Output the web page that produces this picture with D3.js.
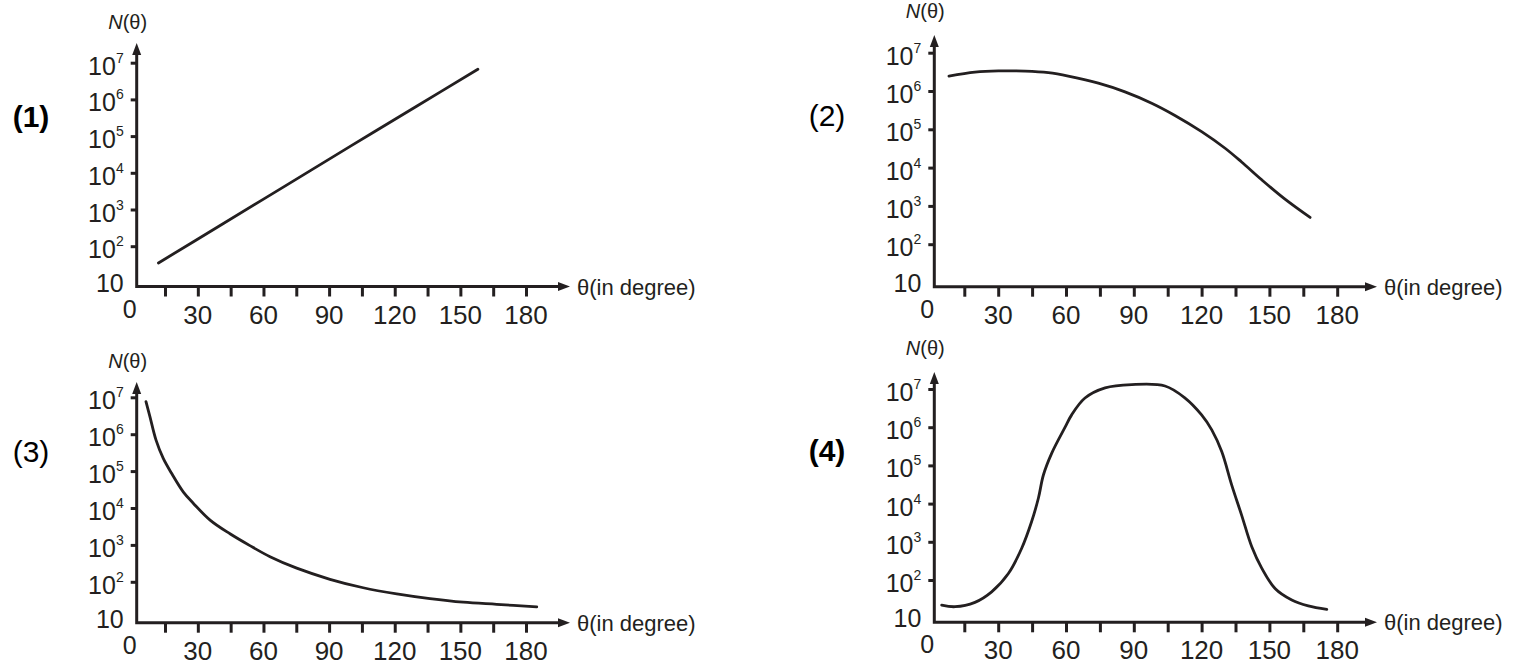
<!DOCTYPE html>
<html>
<head>
<meta charset="utf-8">
<script src="https://cdn.jsdelivr.net/npm/d3@7"></script>
<style>
  body { margin: 0; background: #fff; }
  svg { display: block; font-family: "Liberation Sans", Arial, sans-serif; }
  .curve { fill: none; stroke: #231f20; stroke-width: 2.8; stroke-linejoin: round; stroke-linecap: round; }
  .axis-line { stroke: #231f20; stroke-width: 3; fill: none; }
  .tick line { stroke: #231f20; stroke-width: 3; }
</style>
</head>
<body>
<svg id="chart" width="1531" height="670"></svg>
<script>
// tick labels
let xMajorTicks = [30, 60, 90, 120, 150, 180];
let xMinorTicks = [15, 30, 45, 60, 75, 90, 105, 120, 135, 150, 165, 180];
let yExponents = [2, 3, 4, 5, 6, 7];
let panelNames = ["(1)", "(2)", "(3)", "(4)"];

// curves, [theta in degree, N(theta)]
let curve1 = [[12, 35], [40, 360], [70, 4400], [100, 5.4e4], [130, 6.5e5], [158, 6.6e6]];

let curve2 = [[8.2, 2.45e6], [19.7, 3.1e6], [30.1, 3.35e6], [41.9, 3.3e6], [52.2, 3.0e6],
    [61, 2.45e6], [74.3, 1.6e6], [86.1, 9.5e5], [97.9, 4.8e5], [108.2, 2.3e5],
    [120, 8.7e4], [130.4, 3.2e4], [137.7, 1.4e4], [146.6, 4.8e3], [156.9, 1.5e3], [168, 500]];

let curve3 = [[6.3, 7.6e6], [8.1, 3.0e6], [10.9, 6.9e5], [14.2, 2.2e5], [18, 8.7e4],
    [23.4, 2.7e4], [27.9, 1.35e4], [35.6, 4.7e3], [44.7, 2.0e3], [53.8, 955],
    [63, 479], [75.2, 234], [90.4, 117], [105.6, 69], [120.9, 47], [136.1, 35],
    [151.3, 28], [166.6, 24.5], [184.9, 21]];

let curve4 = [[5, 22], [10.9, 20], [19.7, 26], [27.1, 49], [34.5, 148], [40.4, 680],
    [44.8, 3.4e3], [47.8, 1.4e4], [50, 5.6e4], [53.7, 2.1e5], [59.6, 1.0e6], [62.5, 2.1e6],
    [68.4, 5.8e6], [77.3, 1.07e7], [89.1, 1.3e7], [103.8, 1.2e7], [112.7, 5.8e6],
    [120, 2.1e6], [124.5, 8.5e5], [128.9, 2.3e5], [133.3, 3.1e4], [137.7, 5.0e3],
    [142.2, 740], [146.6, 204], [152.5, 60], [159.9, 30], [167.2, 21], [175.4, 17]];

let curves = [curve1, curve2, curve3, curve4];

// where each panel sits on the page
let panels = [
    { x0: 132.2, x180: 526.0, y10: 282.9, y7: 62.7, axisX: 136.7, axisY: 286.5, yTip: 43, xTip: 570, labelX: 31, labelY: 127, bold: true, nY: 29 },
    { x0: 930.4, x180: 1337.2, y10: 282.5, y7: 52.7, axisX: 934.3, axisY: 286.7, yTip: 35, xTip: 1377, labelX: 827, labelY: 126, bold: false, nY: 18 },
    { x0: 132.2, x180: 526.0, y10: 618.7, y7: 397.3, axisX: 136.7, axisY: 622.7, yTip: 382, xTip: 570, labelX: 31, labelY: 462, bold: false, nY: 368 },
    { x0: 930.4, x180: 1337.2, y10: 618.2, y7: 389.0, axisX: 934.3, axisY: 622.3, yTip: 372, xTip: 1377, labelX: 827, labelY: 461, bold: true, nY: 355 }
];

let svg = d3.select("#chart");

panels.forEach((p, i) => drawPanel(p, curves[i], panelNames[i]));

function drawPanel(p, data, name) {
    let x = d3.scaleLinear().domain([0, 180]).range([p.x0, p.x180]);
    let y = d3.scaleLog().domain([10, 1e7]).range([p.y10, p.y7]);

    let g = svg.append("g");

    // x ticks
    g.append("g")
        .attr("transform", `translate(0,${p.axisY})`)
        .call(d3.axisBottom(x).tickValues(xMinorTicks).tickSize(10).tickFormat(""))
        .call(s => s.select(".domain").remove());

    // y ticks
    g.append("g")
        .attr("transform", `translate(${p.axisX},0)`)
        .call(d3.axisLeft(y).tickValues(yExponents.map(e => Math.pow(10, e))).tickSize(6).tickFormat(""))
        .call(s => s.select(".domain").remove());

    // axes with arrows
    g.append("path")
        .attr("class", "axis-line")
        .attr("d", `M${p.axisX},${p.yTip + 8}V${p.axisY}H${p.xTip - 8}`);
    g.append("path")
        .attr("fill", "#231f20")
        .attr("d", `M${p.axisX},${p.yTip}L${p.axisX - 4.5},${p.yTip + 12}L${p.axisX + 4.5},${p.yTip + 12}Z`);
    g.append("path")
        .attr("fill", "#231f20")
        .attr("d", `M${p.xTip},${p.axisY}L${p.xTip - 12},${p.axisY - 4.5}L${p.xTip - 12},${p.axisY + 4.5}Z`);

    // y labels 10^n
    yExponents.forEach(e => {
        let t = g.append("text")
            .attr("x", p.axisX - 13)
            .attr("y", y(Math.pow(10, e)) + 12)
            .attr("text-anchor", "end")
            .attr("fill", "#231f20")
            .attr("font-size", 25);
        t.append("tspan").text("10");
        t.append("tspan").attr("font-size", 14).attr("dy", -12).text(e);
    });
    g.append("text")
        .attr("x", p.axisX - 13)
        .attr("y", p.axisY + 5)
        .attr("text-anchor", "end")
        .attr("fill", "#231f20")
        .attr("font-size", 25)
        .text("10");

    // x labels
    g.selectAll(".xlab")
        .data(xMajorTicks)
        .join("text")
        .attr("x", d => x(d))
        .attr("y", p.axisY + 37)
        .attr("text-anchor", "middle")
        .attr("fill", "#231f20")
        .attr("font-size", 26)
        .text(d => d);
    g.append("text")
        .attr("x", p.axisX - 7)
        .attr("y", p.axisY + 31)
        .attr("text-anchor", "middle")
        .attr("fill", "#231f20")
        .attr("font-size", 25)
        .text("0");

    // axis titles
    let nt = g.append("text")
        .attr("x", p.axisX - 9)
        .attr("y", p.nY)
        .attr("text-anchor", "middle")
        .attr("fill", "#231f20")
        .attr("font-size", 20);
    nt.append("tspan").attr("font-style", "italic").text("N");
    nt.append("tspan").text("(θ)");

    g.append("text")
        .attr("x", p.xTip + 7)
        .attr("y", p.axisY + 8)
        .attr("fill", "#231f20")
        .attr("font-size", 22)
        .text("θ(in degree)");

    g.append("text")
        .attr("x", p.labelX)
        .attr("y", p.labelY)
        .attr("text-anchor", "middle")
        .attr("font-size", 30)
        .attr("font-weight", p.bold ? "bold" : "normal")
        .attr("fill", "#000")
        .text(name);

    let line = d3.line()
        .x(d => x(d[0]))
        .y(d => y(d[1]))
        .curve(d3.curveCatmullRom.alpha(0.5));

    g.append("path")
        .datum(data)
        .attr("class", "curve")
        .attr("d", line);
}
</script>
</body>
</html>
